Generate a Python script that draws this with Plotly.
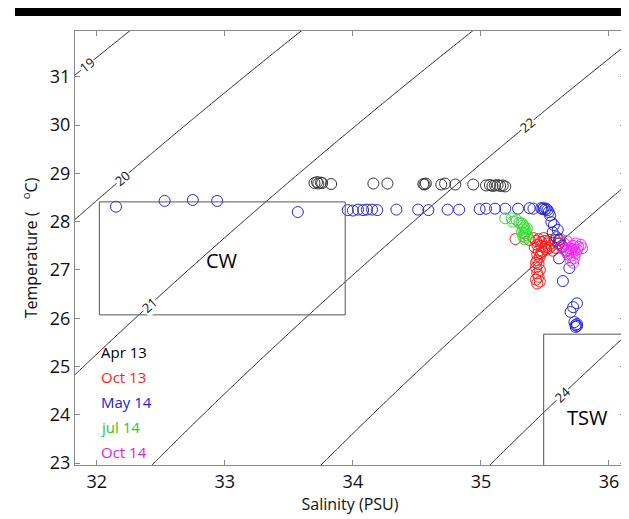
import math
import numpy as np
import plotly.graph_objects as go

# ---------------- data ----------------
apr13 = [(33.70, 28.80), (33.72, 28.82), (33.73, 28.79), (33.75, 28.81), (33.76, 28.80),
         (33.83, 28.78), (34.16, 28.79), (34.27, 28.79), (34.55, 28.78), (34.56, 28.77),
         (34.57, 28.79), (34.69, 28.77), (34.72, 28.79), (34.80, 28.77), (34.94, 28.77),
         (35.04, 28.75), (35.07, 28.76), (35.09, 28.74), (35.11, 28.75), (35.13, 28.76),
         (35.15, 28.74), (35.17, 28.75), (35.19, 28.73), (35.58, 27.62), (35.61, 27.55),
         (35.64, 27.48)]
oct13 = [(35.27, 27.64), (35.38, 27.62), (35.41, 27.66), (35.43, 27.60), (35.45, 27.64),
         (35.47, 27.58), (35.49, 27.66), (35.50, 27.60), (35.52, 27.55), (35.54, 27.62),
         (35.55, 27.50), (35.53, 27.45), (35.50, 27.48), (35.47, 27.50), (35.44, 27.52),
         (35.42, 27.47), (35.45, 27.40), (35.48, 27.38), (35.51, 27.42), (35.56, 27.40),
         (35.58, 27.46), (35.60, 27.55), (35.62, 27.64), (35.44, 27.32), (35.46, 27.27),
         (35.44, 27.20), (35.45, 27.12), (35.43, 27.05), (35.46, 27.00), (35.44, 26.93),
         (35.45, 26.86), (35.43, 26.80), (35.44, 26.72), (35.46, 26.76), (35.43, 27.15),
         (35.47, 27.34)]
may14 = [(32.15, 28.31), (32.53, 28.43), (32.75, 28.45), (32.94, 28.43), (33.57, 28.20),
         (33.96, 28.24), (34.00, 28.23), (34.04, 28.25), (34.08, 28.24), (34.11, 28.25),
         (34.15, 28.25), (34.19, 28.24), (34.34, 28.25), (34.51, 28.25), (34.59, 28.24),
         (34.74, 28.25), (34.83, 28.25), (34.99, 28.26), (35.04, 28.27), (35.11, 28.27),
         (35.19, 28.27), (35.29, 28.27), (35.38, 28.28), (35.41, 28.27), (35.47, 28.28),
         (35.48, 28.26), (35.49, 28.28), (35.50, 28.25), (35.51, 28.27), (35.52, 28.24),
         (35.53, 28.20), (35.54, 28.13), (35.55, 27.99), (35.57, 27.93), (35.60, 27.83),
         (35.56, 27.78), (35.59, 27.68), (35.61, 27.62), (35.63, 27.50), (35.61, 27.24),
         (35.67, 27.40), (35.69, 27.04), (35.64, 26.77), (35.75, 26.31), (35.72, 26.23),
         (35.70, 26.13), (35.73, 25.92), (35.74, 25.86), (35.75, 25.84), (35.74, 25.82),
         (35.75, 25.88)]
jul14 = [(35.19, 28.07), (35.24, 28.07), (35.25, 28.00), (35.28, 28.03), (35.30, 27.98),
         (35.32, 27.96), (35.33, 27.92), (35.34, 27.88), (35.33, 27.84), (35.35, 27.80),
         (35.34, 27.76), (35.36, 27.72), (35.33, 27.70), (35.35, 27.67), (35.34, 27.64),
         (35.36, 27.86), (35.32, 27.78)]
oct14 = [(35.63, 27.48), (35.65, 27.55), (35.67, 27.60), (35.69, 27.45), (35.70, 27.38),
         (35.72, 27.50), (35.74, 27.55), (35.76, 27.48), (35.78, 27.52), (35.79, 27.45),
         (35.71, 27.30), (35.73, 27.25), (35.70, 27.20), (35.72, 27.15), (35.74, 27.35),
         (35.68, 27.32), (35.66, 27.40), (35.75, 27.42), (35.71, 27.43), (35.73, 27.40)]

series_names = ["Apr 13", "Oct 13", "May 14", "jul 14", "Oct 14"]
series_data = [apr13, oct13, may14, jul14, oct14]
series_colors = ["#333333", "#ff1a1a", "#2828d8", "#33dd33", "#ff22ff"]
legend_colors = ["#000000", "#ff1a1a", "#2020e0", "#22cc22", "#e020e0"]
legend_T = [25.30, 24.78, 24.26, 23.75, 23.23]

sigma_levels = [19, 20, 21, 22, 23, 24]
label_levels = [19, 20, 21, 22, 24]
label_T = [31.24, 28.90, 26.27, 30.00, 24.41]
cw_box = {"S": [32.02, 33.94], "T": [26.07, 28.41]}
tsw_box = {"S": [35.49, 36.2], "T": [22.9, 25.67]}
x_ticks = [32, 33, 34, 35, 36]
y_ticks = [23, 24, 25, 26, 27, 28, 29, 30, 31]
x_range = [31.83, 36.125]
y_range = [22.96, 31.95]

# the page body adds an 8 px offset, so the figure is 8 px smaller than the window
W, H = 621, 511
M = dict(l=67, r=4, t=23, b=54)


# ---------------- sigma-t (UNESCO 1980, p = 0) ----------------
def sigma_t(S, T):
    rw = (999.842594 + 6.793952e-2 * T - 9.095290e-3 * T**2 + 1.001685e-4 * T**3
          - 1.120083e-6 * T**4 + 6.536332e-9 * T**5)
    A = 8.24493e-1 - 4.0899e-3 * T + 7.6438e-5 * T**2 - 8.2467e-7 * T**3 + 5.3875e-9 * T**4
    B = -5.72466e-3 + 1.0227e-4 * T - 1.6546e-6 * T**2
    C = 4.8314e-4
    return rw + A * S + B * S**1.5 + C * S**2 - 1000.0


Sg = np.linspace(31.5, 36.5, 220)
Tg = np.linspace(22.5, 32.5, 220)
SS, TT = np.meshgrid(Sg, Tg)
Z = sigma_t(SS, TT)

FONT = "Open Sans"
fig = go.Figure()
fig.add_trace(go.Contour(
    x=Sg, y=Tg, z=Z, showscale=False, hoverinfo="skip",
    colorscale=[[0, "#222222"], [1, "#222222"]],
    contours=dict(start=sigma_levels[0], end=sigma_levels[-1], size=1, coloring="lines",
                  showlabels=False),
    line=dict(width=1),
))

# contour labels placed on the isopycnals (inline, like clabel)
px_per_S = (W - M["l"] - M["r"]) / (x_range[1] - x_range[0])
px_per_T = (H - M["t"] - M["b"]) / (y_range[1] - y_range[0])
Sfine = np.linspace(30.0, 38.0, 4001)
for lev, tl in zip(label_levels, label_T):
    sl = float(np.interp(lev, sigma_t(Sfine, tl), Sfine))
    eps = 1e-3
    dsds = (sigma_t(sl + eps, tl) - sigma_t(sl - eps, tl)) / (2 * eps)
    dsdt = (sigma_t(sl, tl + eps) - sigma_t(sl, tl - eps)) / (2 * eps)
    slope = -dsds / dsdt  # dT/dS along isopycnal
    ang = math.degrees(math.atan(slope * px_per_T / px_per_S))
    fig.add_annotation(x=sl, y=tl, text=str(lev), showarrow=False, textangle=-ang,
                       bgcolor="white", borderpad=0,
                       font=dict(family=FONT, size=13, color="#111111"))

for name, pts, col in zip(series_names, series_data, series_colors):
    s = [p[0] for p in pts]
    t = [p[1] for p in pts]
    fig.add_trace(go.Scatter(
        x=s, y=t, mode="markers", name=name, showlegend=False,
        marker=dict(symbol="circle-open", size=11, color=col, line=dict(width=1, color=col)),
    ))

box_line = dict(color="#555555", width=1)
fig.add_shape(type="rect", xref="x", yref="y", x0=cw_box["S"][0], x1=cw_box["S"][1],
              y0=cw_box["T"][0], y1=cw_box["T"][1], line=box_line)
fig.add_shape(type="rect", xref="x", yref="y", x0=tsw_box["S"][0], x1=tsw_box["S"][1],
              y0=tsw_box["T"][0], y1=tsw_box["T"][1], line=box_line)
# black title bar
pw = W - M["l"] - M["r"]
ph = H - M["t"] - M["b"]
fig.add_shape(type="rect", xref="paper", yref="paper",
              x0=(7 - M["l"]) / pw, x1=(W - M["l"]) / pw,
              y0=(ph + M["t"] - 8) / ph, y1=(ph + M["t"] + 1) / ph,
              fillcolor="black", line=dict(width=0))

fig.add_annotation(x=sum(cw_box["S"]) / 2, y=27.2, text="CW", showarrow=False,
                   font=dict(family=FONT, size=20, color="black"))
fig.add_annotation(x=35.83, y=23.95, text="TSW", showarrow=False,
                   font=dict(family=FONT, size=20, color="black"))

for name, col, ty in zip(series_names, legend_colors, legend_T):
    fig.add_annotation(x=32.02, y=ty, text=name, showarrow=False, xanchor="left",
                       font=dict(family=FONT, size=15, color=col))

axis_common = dict(showline=True, linecolor="#888888", linewidth=1, mirror="ticks",
                   ticks="inside", ticklen=5, tickcolor="#888888", showgrid=False,
                   zeroline=False, automargin=False,
                   tickfont=dict(family=FONT, size=18, color="#111111"))
fig.update_xaxes(range=x_range, tickvals=x_ticks, **axis_common,
                 title=dict(text="Salinity (PSU)", standoff=4,
                            font=dict(family=FONT, size=16, color="#111111")))
fig.update_yaxes(range=y_range, tickvals=y_ticks, **axis_common,
                 title=dict(text="Temperature (   <sup>o</sup>C)", standoff=8,
                            font=dict(family=FONT, size=16, color="#111111")))

fig.update_layout(width=W, height=H, margin=M,
                  plot_bgcolor="white", paper_bgcolor="white", showlegend=False,
                  font=dict(family=FONT))
fig.write_html("out.html")
